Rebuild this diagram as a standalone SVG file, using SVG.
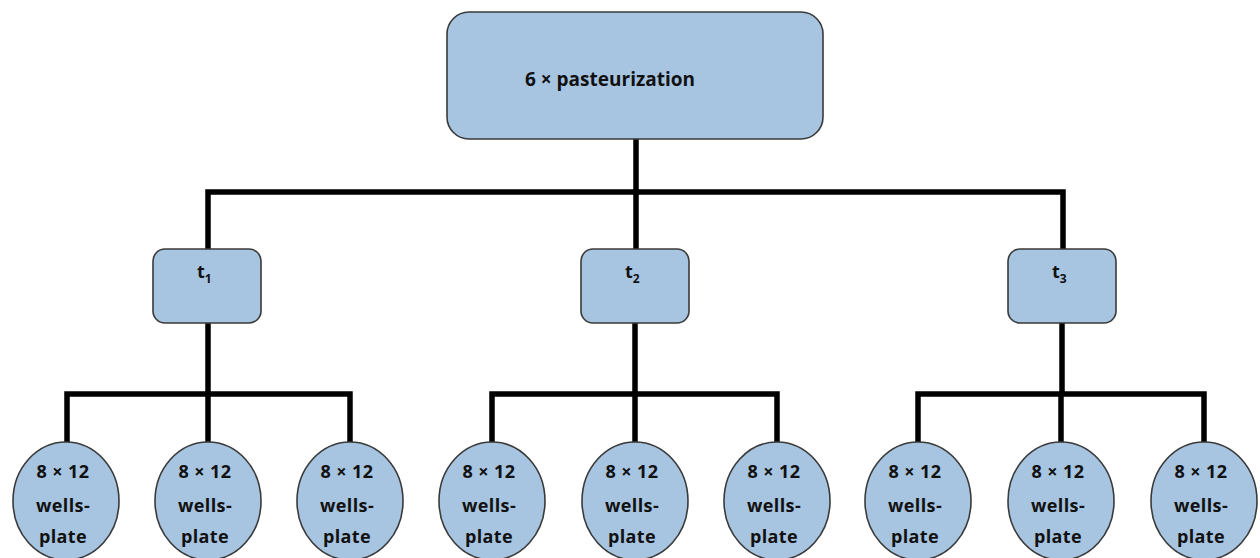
<svg xmlns="http://www.w3.org/2000/svg" width="1260" height="558" viewBox="0 0 1260 558">
<style>
.box{fill:#a7c5e1;stroke:#3a3a3a;stroke-width:1.6}
.ln{fill:none;stroke:#000;stroke-width:5.5;stroke-linejoin:miter}
text{font-family:"Open Sans","Liberation Sans",sans-serif;font-weight:bold;font-size:18px;fill:#111}
.c{text-anchor:middle;letter-spacing:0.4px}
.big{font-size:19px}
.sub{font-size:12px}
</style>
<rect width="1260" height="558" fill="#fff"/>
<g id="connectors">
<path class="ln" d="M636 139V192M208 249V192H1063V249M636 192V249"/>
<path class="ln" d="M208 323V394M67 442V394H350V442M208 394V442"/>
<path class="ln" d="M635 323V394M492 442V394H777V442M635 394V442"/>
<path class="ln" d="M1062 323V394M918 442V394H1204V442M1061 394V442"/>
</g>
<g id="root"><rect class="box" x="447" y="12" width="376" height="127" rx="22"/><text class="big" x="525" y="86">6 × pasteurization</text></g>
<g id="t1"><rect class="box" x="153" y="249" width="108" height="74" rx="12"/><text x="197" y="278">t<tspan class="sub" dy="5">1</tspan></text></g>
<g id="t2"><rect class="box" x="581" y="249" width="108" height="74" rx="12"/><text x="625" y="278">t<tspan class="sub" dy="5">2</tspan></text></g>
<g id="t3"><rect class="box" x="1008" y="249" width="108" height="74" rx="12"/><text x="1052" y="278">t<tspan class="sub" dy="5">3</tspan></text></g>
<g id="p1"><ellipse class="box" cx="66" cy="501" rx="53" ry="59"/><text class="c" x="63" y="478">8 × 12</text><text class="c" x="63" y="512">wells-</text><text class="c" x="63" y="543">plate</text></g>
<g id="p2"><ellipse class="box" cx="208" cy="501" rx="53" ry="59"/><text class="c" x="205" y="478">8 × 12</text><text class="c" x="205" y="512">wells-</text><text class="c" x="205" y="543">plate</text></g>
<g id="p3"><ellipse class="box" cx="350" cy="501" rx="53" ry="59"/><text class="c" x="347" y="478">8 × 12</text><text class="c" x="347" y="512">wells-</text><text class="c" x="347" y="543">plate</text></g>
<g id="p4"><ellipse class="box" cx="492" cy="501" rx="53" ry="59"/><text class="c" x="489" y="478">8 × 12</text><text class="c" x="489" y="512">wells-</text><text class="c" x="489" y="543">plate</text></g>
<g id="p5"><ellipse class="box" cx="635" cy="501" rx="53" ry="59"/><text class="c" x="632" y="478">8 × 12</text><text class="c" x="632" y="512">wells-</text><text class="c" x="632" y="543">plate</text></g>
<g id="p6"><ellipse class="box" cx="777" cy="501" rx="53" ry="59"/><text class="c" x="774" y="478">8 × 12</text><text class="c" x="774" y="512">wells-</text><text class="c" x="774" y="543">plate</text></g>
<g id="p7"><ellipse class="box" cx="918" cy="501" rx="53" ry="59"/><text class="c" x="915" y="478">8 × 12</text><text class="c" x="915" y="512">wells-</text><text class="c" x="915" y="543">plate</text></g>
<g id="p8"><ellipse class="box" cx="1061" cy="501" rx="53" ry="59"/><text class="c" x="1058" y="478">8 × 12</text><text class="c" x="1058" y="512">wells-</text><text class="c" x="1058" y="543">plate</text></g>
<g id="p9"><ellipse class="box" cx="1204" cy="501" rx="53" ry="59"/><text class="c" x="1201" y="478">8 × 12</text><text class="c" x="1201" y="512">wells-</text><text class="c" x="1201" y="543">plate</text></g>
</svg>
